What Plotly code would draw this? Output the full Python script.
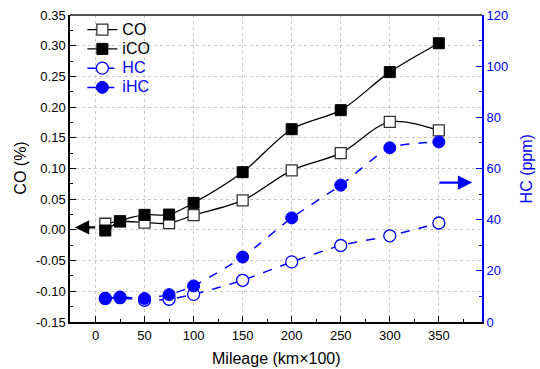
import plotly.graph_objects as go

mileage = [10, 25, 50, 75, 100, 150, 200, 250, 300, 350]
co = [0.010, 0.014, 0.012, 0.011, 0.024, 0.048, 0.097, 0.125, 0.176, 0.162]
ico = [-0.001, 0.014, 0.0245, 0.025, 0.044, 0.094, 0.164, 0.195, 0.257, 0.304]
hc = [9.2, 9.5, 8.5, 8.9, 10.8, 16.3, 23.5, 29.9, 33.7, 38.7]
ihc = [9.2, 9.8, 9.2, 10.7, 14.1, 25.4, 40.7, 53.5, 68.1, 70.4]

x_ticks = [0, 50, 100, 150, 200, 250, 300, 350]
y_ticks = [-0.15, -0.10, -0.05, 0.00, 0.05, 0.10, 0.15, 0.20, 0.25, 0.30, 0.35]
y_tick_text = ["-0.15", "-0.10", "-0.05", "0.00", "0.05", "0.10", "0.15", "0.20", "0.25", "0.30", "0.35"]
y2_ticks = [0, 20, 40, 60, 80, 100, 120]

BLUE = "#0000FF"
FONT = "Liberation Sans, Arial, sans-serif"


def lbl(text, color="black"):
    return f'<span style="font-size:16px;fill:{color}">{text}</span>'


fig = go.Figure()
fig.add_trace(go.Scatter(
    x=mileage, y=co, name=lbl("CO"), mode="lines+markers",
    line=dict(color="black", width=1.3, shape="spline", smoothing=0.9),
    marker=dict(symbol="square", size=11, color="white", line=dict(color="#333333", width=1.3)),
))
fig.add_trace(go.Scatter(
    x=mileage, y=ico, name=lbl("iCO"), mode="lines+markers",
    line=dict(color="black", width=1.3, shape="spline", smoothing=0.9),
    marker=dict(symbol="square", size=11, color="black", line=dict(color="black", width=1)),
))
fig.add_trace(go.Scatter(
    x=mileage, y=hc, name=lbl("HC", BLUE), mode="lines+markers", yaxis="y2",
    line=dict(color=BLUE, width=1.5, dash="dash", shape="spline", smoothing=0.6),
    marker=dict(symbol="circle", size=12, color="white", line=dict(color=BLUE, width=1.3)),
))
fig.add_trace(go.Scatter(
    x=mileage, y=ihc, name=lbl("iHC", BLUE), mode="lines+markers", yaxis="y2",
    line=dict(color=BLUE, width=1.5, dash="dash", shape="spline", smoothing=0.6),
    marker=dict(symbol="circle", size=12, color=BLUE, line=dict(color=BLUE, width=1)),
))

grid = dict(showgrid=True, gridcolor="#c8c8c8", griddash="dot", gridwidth=1)

fig.update_layout(
    width=540, height=369,
    margin=dict(l=70, r=58, t=15, b=47),
    paper_bgcolor="white", plot_bgcolor="white",
    font=dict(family=FONT, size=13, color="black"),
    showlegend=True,
    legend=dict(x=0.03, y=1.0, xanchor="left", yanchor="top", bgcolor="rgba(0,0,0,0)",
                font=dict(size=12.5, family=FONT), tracegroupgap=0),
    xaxis=dict(
        range=[-26, 394], tickvals=x_ticks, ticks="inside", ticklen=6, tickwidth=1.3,
        tickcolor="black", showline=True, linecolor="black", linewidth=1.5,
        minor=dict(dtick=25, tick0=0, ticks="inside", ticklen=3, tickcolor="black", showgrid=False),
        automargin=False, zeroline=False, tickfont=dict(size=13), ticklabelstandoff=1, **grid,
    ),
    yaxis=dict(
        range=[-0.15, 0.35], tickvals=y_ticks, ticktext=y_tick_text, ticks="inside", ticklen=6, tickwidth=1.3,
        tickcolor="black", showline=True, linecolor="black", linewidth=1.5,
        minor=dict(dtick=0.025, tick0=0, ticks="inside", ticklen=3, tickcolor="black", showgrid=False),
        automargin=False, zeroline=False, tickfont=dict(size=13), **grid,
    ),
    yaxis2=dict(
        range=[0, 120], tickvals=y2_ticks, overlaying="y", side="right", ticks="inside",
        ticklen=6, tickwidth=1.3, tickcolor=BLUE, showline=True, linecolor=BLUE, linewidth=2,
        minor=dict(dtick=10, tick0=0, ticks="inside", ticklen=3, tickcolor=BLUE, showgrid=False),
        automargin=False, tickfont=dict(size=13, color=BLUE), showgrid=False, zeroline=False,
    ),
    shapes=[dict(type="line", xref="paper", yref="paper", x0=0, x1=1, y0=1, y1=1,
                 line=dict(color="#555555", width=2))],
    annotations=[
        dict(x=-21, y=0.004, ax=1, ay=0.004, xref="x", yref="y", axref="x", ayref="y",
             text="", showarrow=True, arrowhead=2, arrowsize=1.3, arrowwidth=2.2, arrowcolor="black"),
        dict(x=384, y=54.5, ax=349, ay=54.5, xref="x", yref="y2", axref="x", ayref="y2",
             text="", showarrow=True, arrowhead=2, arrowsize=1.3, arrowwidth=2.2, arrowcolor=BLUE),
        dict(x=0.5, y=-0.12, xref="paper", yref="paper", xanchor="center", yanchor="middle",
             text="Mileage (km×100)", showarrow=False, font=dict(size=16)),
        dict(x=-0.121, y=0.5, xref="paper", yref="paper", xanchor="center", yanchor="middle",
             text="CO (%)", showarrow=False, textangle=-90, font=dict(size=16)),
        dict(x=1.109, y=0.5, xref="paper", yref="paper", xanchor="center", yanchor="middle",
             text="HC (ppm)", showarrow=False, textangle=-90, font=dict(size=16, color=BLUE)),
    ],
)

fig.write_html("out.html")
